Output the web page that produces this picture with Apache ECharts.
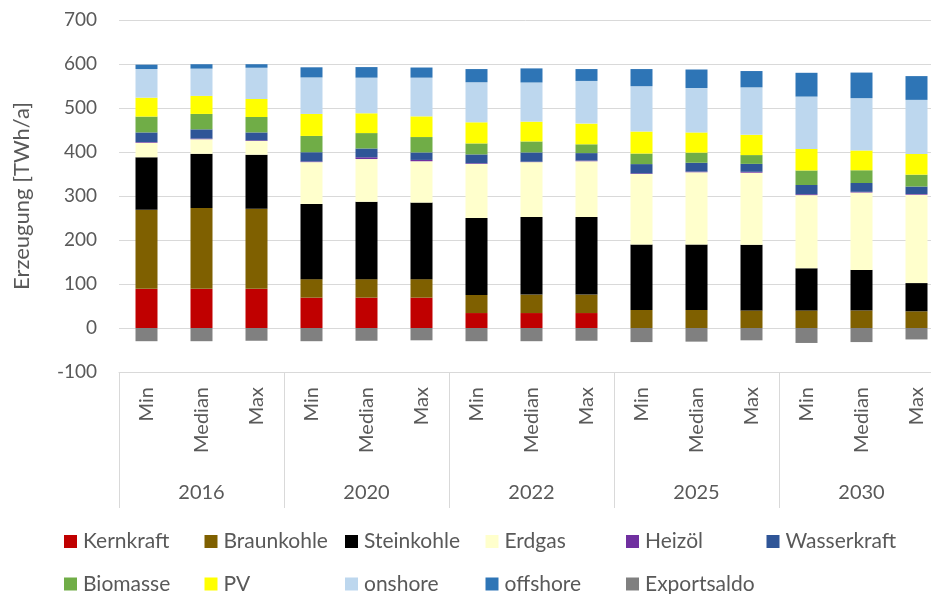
<!DOCTYPE html>
<html>
<head>
<meta charset="utf-8">
<script src="https://cdn.jsdelivr.net/npm/echarts@6/dist/echarts.min.js"></script>
<style>
  html, body { margin: 0; padding: 0; background: #fff; }
  #chart { width: 931px; height: 594px; }
</style>
</head>
<body>
<div id="chart"></div>
<script>
// Kategorien
const years = ['2016', '2020', '2022', '2025', '2030'];
const cases = ['Min', 'Median', 'Max'];
const categories = years.flatMap(() => cases);

// Erzeugung je Energieträger [TWh/a], Reihenfolge: 2016 Min/Median/Max, 2020 ..., 2030
const kernkraft   = [89, 89, 89, 69, 69, 69, 34, 34, 34, 0, 0, 0, 0, 0, 0];
const braunkohle  = [180, 184, 182, 42, 42, 42, 41, 42, 42, 41, 41, 40, 40, 40, 38];
const steinkohle  = [119, 123, 123, 171, 176, 174, 175, 176, 176, 149, 149, 149, 96, 92, 64];
const erdgas      = [33, 33, 31, 95, 97, 94, 123, 125, 127, 160, 164, 164, 166, 176, 201];
const heizoel     = [1.5, 1.5, 1.5, 1.5, 4, 3, 1.5, 1, 1.5, 1.5, 1.5, 2, 2, 1.5, 1.5];
const wasserkraft = [22, 21, 18, 21, 20, 17, 20, 21, 17, 21, 20, 18, 21, 20, 17];
const biomasse    = [36, 35, 35, 37, 35, 35, 25, 25, 20, 24, 23, 20, 33, 29, 27];
const pv          = [43, 41, 41, 50, 45, 47, 48, 45, 47, 50, 46, 46, 49, 45, 47];
const onshore     = [65, 62, 71, 83, 81, 88, 91, 89, 97, 103, 101, 108, 119, 119, 123];
const offshore    = [10, 10, 8, 23, 24, 23, 30, 32, 27, 39, 42, 37, 54, 58, 54];
const exportsaldo = [-30, -30, -29, -30, -29, -28, -30, -30, -29, -32, -31, -28, -34, -32, -26];

const yTicks = { min: -100, max: 700, interval: 100 };

const seriesDefs = [
  { name: 'Kernkraft', data: kernkraft, color: '#C00000' },
  { name: 'Braunkohle', data: braunkohle, color: '#7F6000' },
  { name: 'Steinkohle', data: steinkohle, color: '#000000' },
  { name: 'Erdgas', data: erdgas, color: '#FFFFCC' },
  { name: 'Heizöl', data: heizoel, color: '#7030A0' },
  { name: 'Wasserkraft', data: wasserkraft, color: '#2F5597' },
  { name: 'Biomasse', data: biomasse, color: '#70AD47' },
  { name: 'PV', data: pv, color: '#FFFF00' },
  { name: 'onshore', data: onshore, color: '#BDD7EE' },
  { name: 'offshore', data: offshore, color: '#2E75B6' },
  { name: 'Exportsaldo', data: exportsaldo, color: '#808080' }
];

const font = 'Lato, "Open Sans", sans-serif';
const textColor = '#595959';
const gridColor = '#D9D9D9';

// Legende: 6 Spalten, 2 Zeilen
const legends = seriesDefs.map((s, i) => ({
  data: [s.name],
  left: 64 + (i % 6) * 140.5,
  top: 531 + Math.floor(i / 6) * 42.5,
  padding: 0,
  itemWidth: 13,
  itemHeight: 13,
  icon: 'rect',
  selectedMode: false,
  textStyle: { fontFamily: font, fontSize: 21, color: textColor, padding: [0, 0, 0, 1] }
}));

const chart = echarts.init(document.getElementById('chart'));
chart.setOption({
  animation: false,
  textStyle: { fontFamily: font },
  // Plotbereich ragt rechts etwas über den Rand hinaus (wie im Original)
  grid: { left: 119, top: 20, width: 825, height: 352, outerBoundsMode: 'none' },
  legend: legends,
  xAxis: [
    {
      type: 'category',
      data: categories,
      axisLine: { onZero: false, lineStyle: { color: gridColor } },
      axisTick: { show: false },
      axisLabel: {
        rotate: 90,
        margin: 15,
        interval: 0,
        fontFamily: font,
        fontSize: 20,
        color: textColor
      }
    },
    {
      type: 'category',
      data: years,
      position: 'bottom',
      axisLine: { show: false, onZero: false },
      axisTick: { show: true, length: 136, lineStyle: { color: gridColor } },
      axisLabel: {
        margin: 111,
        interval: 0,
        fontFamily: font,
        fontSize: 20,
        color: textColor
      }
    }
  ],
  yAxis: {
    type: 'value',
    min: yTicks.min,
    max: yTicks.max,
    interval: yTicks.interval,
    name: 'Erzeugung [TWh/a]',
    nameLocation: 'middle',
    nameGap: 86,
    nameTextStyle: { fontFamily: font, fontSize: 22, color: textColor },
    axisLine: { show: false },
    axisTick: { show: false },
    axisLabel: { fontFamily: font, fontSize: 19, color: textColor, margin: 22 },
    splitLine: { lineStyle: { color: gridColor, width: 1 } }
  },
  series: seriesDefs.map(s => ({
    name: s.name,
    type: 'bar',
    stack: 'total',
    barWidth: 22,
    data: s.data,
    itemStyle: { color: s.color }
  }))
});
</script>
</body>
</html>
